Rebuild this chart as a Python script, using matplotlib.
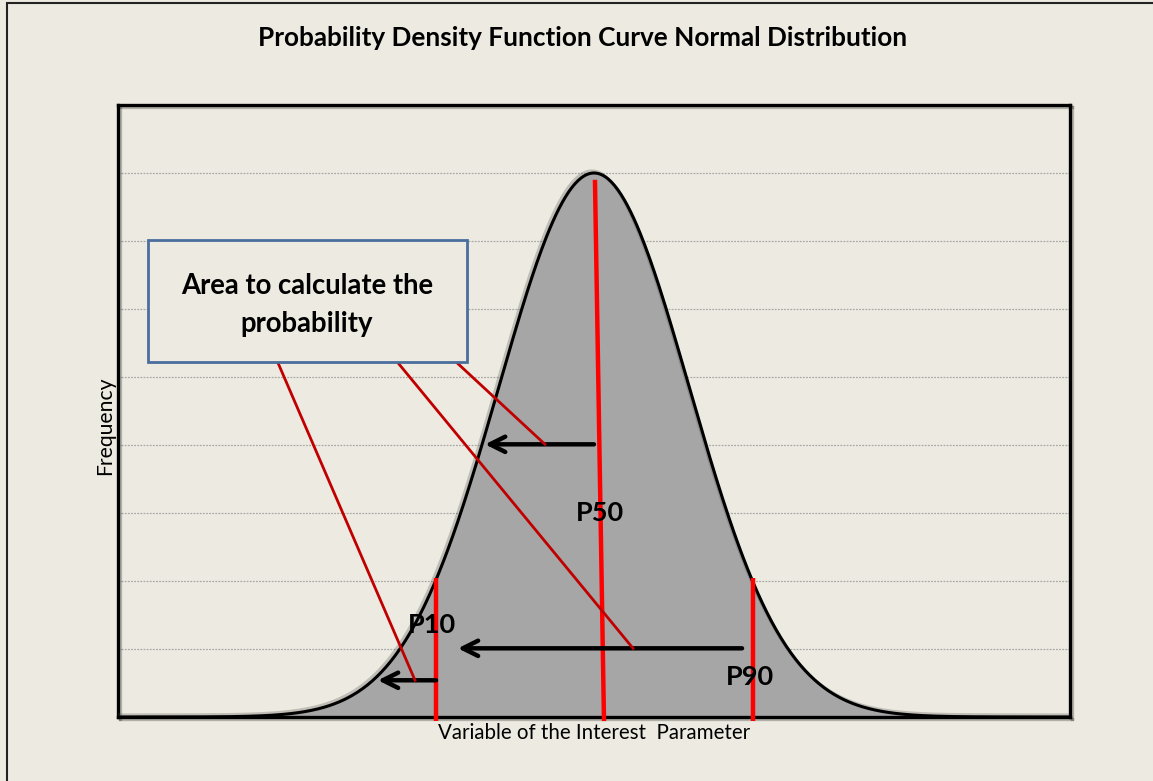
import numpy as np
import matplotlib
matplotlib.use("Agg")
import matplotlib.pyplot as plt
from matplotlib.patches import Rectangle
import matplotlib.patheffects as pe

# ---- data ----
mu = 0.0          # centre of the distribution
sigma = 1.0       # spread
peak = 8.0        # peak frequency (in gridline units)
x_grid = np.linspace(-5, 5, 601)
percentile_names = ["P10", "P50", "P90"]
p10_x = -1.66
p90_x = 1.67
p50_top_x, p50_bottom_x = 0.01, 0.105
marker_top = 2.04     # height of P10/P90 markers
# arrows: (x_start, x_end, y)
arrow_x_start = [0.0, 1.555, -1.66]
arrow_x_end = [-1.145, -1.43, -2.27]
arrow_y = [4.01, 1.01, 0.54]
# connector lines from the box to the arrows
conn_x0 = [-3.32, -2.06, -1.44]
conn_x1 = [-1.88, 0.41, -0.515]
conn_y1 = [0.54, 1.01, 4.01]
grid_levels = [1, 2, 3, 4, 5, 6, 7, 8]

title = "Probability Density Function Curve Normal Distribution"
xlabel = "Variable of the Interest  Parameter"
ylabel = "Frequency"
box_text = "Area to calculate the\nprobability"

BG = "#EDEBE1"
FONT = ["Lato", "DejaVu Sans"]
plt.rcParams["font.family"] = FONT

fig = plt.figure(figsize=(11.53, 7.81), dpi=100)
fig.patch.set_facecolor(BG)
# outer frame (left and top edges visible)
fig.add_artist(Rectangle((7 / 1153, -0.1), 1.2, 1 - 3 / 781 + 0.1,
                         transform=fig.transFigure, fill=False,
                         edgecolor="#222222", linewidth=1.5))

ax = fig.add_axes([118 / 1153, 1 - 717 / 781, (1070 - 118) / 1153, (717 - 105) / 781])
ax.set_facecolor(BG)
ax.set_xlim(-5, 5)
ax.set_ylim(0, 9)
for y in grid_levels:
    ax.axhline(y, color="#A8A8A8", linewidth=0.9, linestyle=(0, (1.5, 1)), zorder=0)
ax.set_xticks([])
ax.set_yticks([])
for s in ax.spines.values():
    s.set_linewidth(2.4)
    s.set_color("black")
    s.set_path_effects([pe.SimpleLineShadow(offset=(1.5, -1.5), alpha=0.25), pe.Normal()])

pdf = peak * np.exp(-0.5 * ((x_grid - mu) / sigma) ** 2)
ax.fill_between(x_grid, 0, pdf, color="#A6A6A6", zorder=1)
ax.plot(x_grid, pdf, color="black", linewidth=2.2, zorder=3,
        path_effects=[pe.SimpleLineShadow(offset=(-1.5, 1.5), alpha=0.3, shadow_color="#555555"), pe.Normal()])

# percentile markers
red = "#FF0000"
ax.plot([p10_x, p10_x], [-0.06, marker_top], color=red, linewidth=3.2, zorder=5, clip_on=False, solid_capstyle="butt")
ax.plot([p90_x, p90_x], [-0.06, marker_top], color=red, linewidth=3.2, zorder=5, clip_on=False, solid_capstyle="butt")
ax.plot([p50_top_x, p50_bottom_x], [7.90, -0.06], color=red, linewidth=3.2, zorder=5, clip_on=False, solid_capstyle="butt")

# arrows
for xs, xe, y in zip(arrow_x_start, arrow_x_end, arrow_y):
    ax.annotate("", xy=(xe, y), xytext=(xs, y),
                arrowprops=dict(arrowstyle="->,head_length=1.1,head_width=0.55",
                                color="black", linewidth=3.2, shrinkA=0, shrinkB=0),
                zorder=6)

# connectors
for x0, x1, y1 in zip(conn_x0, conn_x1, conn_y1):
    ax.plot([x0, x1], [5.21, y1], color="#C00000", linewidth=2.0, zorder=7)

# text box
ax.add_patch(Rectangle((-4.685, 5.22), 3.351, 1.79, facecolor=BG,
                       edgecolor="#4A6E9E", linewidth=2.0, zorder=8))
ax.text(-3.015, 6.06, box_text, ha="center", va="center", fontsize=19.8,
        fontweight="bold", linespacing=1.55, zorder=9, color="black")

# percentile labels
ax.text(0.063, 3.0, percentile_names[1], ha="center", va="center", fontsize=19.5, fontweight="bold", zorder=9)
ax.text(-1.70, 1.35, percentile_names[0], ha="center", va="center", fontsize=19.5, fontweight="bold", zorder=9)
ax.text(1.64, 0.59, percentile_names[2], ha="center", va="center", fontsize=19.5, fontweight="bold", zorder=9)

fig.text(583 / 1153, 1 - 38 / 781, title, ha="center", va="center", fontsize=18.8, fontweight="bold")
fig.text(594 / 1153, 1 - 733 / 781, xlabel, ha="center", va="center", fontsize=14.8)
fig.text(105 / 1153, 1 - 426 / 781, ylabel, ha="center", va="center", fontsize=15.2, rotation=90)

fig.savefig("out.png", dpi=100, facecolor=BG)
